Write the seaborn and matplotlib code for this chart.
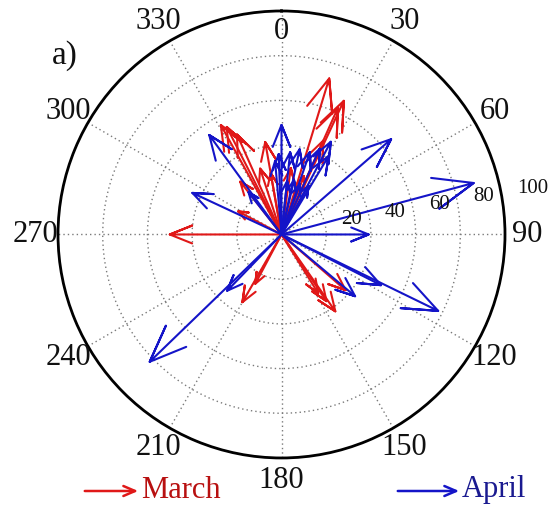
import numpy as np
import pandas as pd
import matplotlib
matplotlib.use("Agg")
import matplotlib.pyplot as plt
import seaborn as sns

# ---- data (direction in degrees clockwise from north, magnitude) ----
march_dir = [270, 17, 25, 24, 24, 331, 333, 336, 350, 342, 322, 298, 21, 8, 350,
             145, 146, 148, 131, 210, 208]
march_mag = [50, 73, 66, 62, 46, 56, 54, 49, 42, 31, 30, 22, 28, 30, 28,
             42, 36, 31, 38, 35, 25]
april_dir = [75, 90, 49, 116, 117, 130, 226, 224, 295, 324, 0, 28, 31, 24, 19, 12,
             6, 358, 355, 13, 29, 20, 6, 322]
april_mag = [89, 39, 65, 78, 50, 43, 82, 35, 44, 55, 49, 47, 41, 42, 39, 39,
             37, 36, 33, 25, 25, 24, 24, 24]
angle_ticks = list(range(0, 360, 30))
radial_ticks = [20, 40, 60, 80, 100]

sns.set_theme(style="white")
plt.rcParams["font.family"] = ["Liberation Serif", "DejaVu Serif"]

fig = plt.figure(figsize=(5.53, 5.11), dpi=100)
ax = fig.add_axes([0.1049, 0.1018, 0.8083, 0.8787], projection="polar")
ax.set_theta_zero_location("N")
ax.set_theta_direction(-1)

# build compass-style arrows (MATLAB compass geometry)
off = np.arctan2(0.08, 0.8)
fb = np.hypot(0.8, 0.08)
rows = []
for month, dirs, mags in [("March", march_dir, march_mag), ("April", april_dir, april_mag)]:
    for i, (d, m) in enumerate(zip(dirs, mags)):
        th = np.deg2rad(d)
        pts = [(th, 0), (th, m), (th + off, m * fb), (th, m), (th - off, m * fb)]
        for k, (t, r) in enumerate(pts):
            rows.append(dict(month=month, arrow=f"{month}{i}", order=k, theta=t, r=r))
df = pd.DataFrame(rows)

sns.lineplot(data=df, x="theta", y="r", hue="month", units="arrow", estimator=None,
             sort=False, palette={"March": "#e01818", "April": "#1414c8"},
             linewidth=1.5, legend=False, ax=ax)

ax.set_ylim(0, 100)
ax.set_xticks(np.deg2rad(angle_ticks))
ax.set_xticklabels([])
ax.set_yticks(radial_ticks)
ax.set_yticklabels([])
ax.set_xlabel("")
ax.set_ylabel("")
ax.grid(True, color="#7a7a7a", linestyle=(0, (1, 2.2)), linewidth=1.0)
ax.spines["polar"].set_linewidth(2)
ax.spines["polar"].set_color("black")

for a in angle_ticks:
    r = 91 if a == 0 else 110
    ax.text(np.deg2rad(a), r, str(a), ha="center", va="center", fontsize=22,
            color="#111111", clip_on=False)

for v in radial_ticks:
    ax.annotate(str(v), xy=(np.deg2rad(80), v), xytext=(11, 5),
                textcoords="offset points", ha="left", va="center",
                fontsize=15, color="#111111", annotation_clip=False)

fig.text(65 / 553, 1 - 56 / 511, "a)", ha="center", va="center", fontsize=24,
         color="#111111")

# legend-like labels at the bottom
W, H = 553, 511
for x0, x1, label, col, acol in [(82, 141, "March", "#b81010", "#e01818"),
                                 (395, 462, "April", "#1a1a90", "#1414c8")]:
    ax.annotate("", xy=(x1 / W, 1 - 491 / H), xytext=(x0 / W, 1 - 491 / H),
                xycoords="figure fraction", textcoords="figure fraction",
                arrowprops=dict(arrowstyle="->,head_length=0.7,head_width=0.3",
                                color=acol, lw=1.8), annotation_clip=False)
    fig.text(x1 / W, 1 - 490 / H, label, ha="left", va="center", fontsize=22, color=col)

fig.savefig("out.png", dpi=100)
